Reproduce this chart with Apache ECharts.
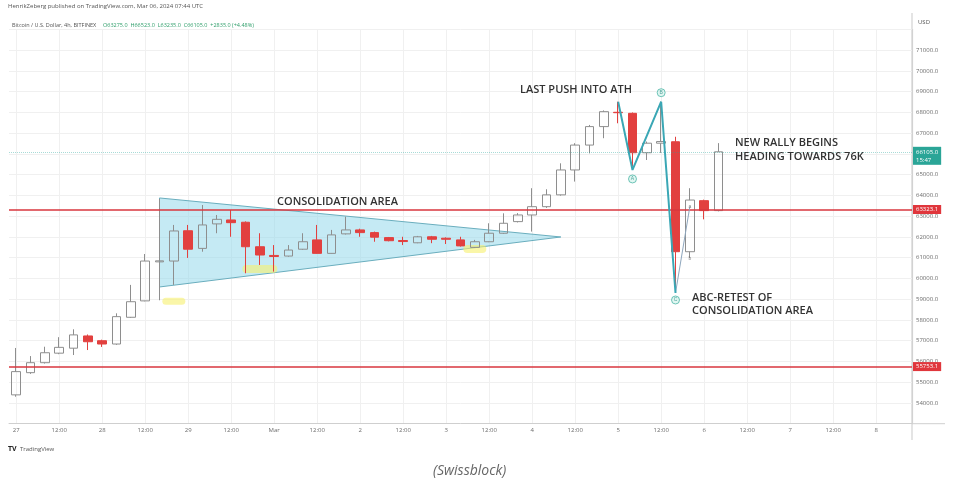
<!DOCTYPE html>
<html><head><meta charset="utf-8">
<script src="https://cdn.jsdelivr.net/npm/echarts@6/dist/echarts.min.js"></script>
<style>html,body{margin:0;padding:0;background:#fff;}#c{width:957px;height:489px;}</style>
</head><body><div id="c"></div>
<script>
// 4h slots, Feb 27 00:00 -> Mar 8 08:00 (UTC)
const categories = [
 '02-27 00','02-27 04','02-27 08','02-27 12','02-27 16','02-27 20',
 '02-28 00','02-28 04','02-28 08','02-28 12','02-28 16','02-28 20',
 '02-29 00','02-29 04','02-29 08','02-29 12','02-29 16','02-29 20',
 '03-01 00','03-01 04','03-01 08','03-01 12','03-01 16','03-01 20',
 '03-02 00','03-02 04','03-02 08','03-02 12','03-02 16','03-02 20',
 '03-03 00','03-03 04','03-03 08','03-03 12','03-03 16','03-03 20',
 '03-04 00','03-04 04','03-04 08','03-04 12','03-04 16','03-04 20',
 '03-05 00','03-05 04','03-05 08','03-05 12','03-05 16','03-05 20',
 '03-06 00','03-06 04','03-06 08','03-06 12','03-06 16','03-06 20',
 '03-07 00','03-07 04','03-07 08','03-07 12','03-07 16','03-07 20',
 '03-08 00','03-08 04','03-08 08'
];
const tickLabels = ['27','12:00','28','12:00','29','12:00','Mar','12:00','2','12:00','3','12:00','4','12:00','5','12:00','6','12:00','7','12:00','8'];
// [open, close, low, high]
const ohlc = [
 [54390,55510,54300,56650],[55460,55940,55400,56260],[55940,56420,55900,56710],[56400,56680,56350,57170],
 [56640,57280,56310,57550],[57230,56950,56550,57300],[57000,56840,56700,57050],[56840,58160,56800,58320],
 [58130,58880,58100,59690],[58920,60840,58900,61180],[60800,60850,58950,63830],[60840,62290,59690,62580],
 [62300,61410,60990,62580],[61450,62580,61290,63540],[62630,62850,62180,63060],[62820,62690,62010,63300],
 [62710,61530,60250,62750],[61530,61130,60650,62180],[61110,61060,60330,61610],[61080,61370,61050,61610],
 [61410,61770,61380,62180],[61860,61210,61200,62580],[61210,62100,61200,62340],[62150,62340,62120,62980],
 [62340,62210,62010,62400],[62210,61990,61770,62260],[61970,61820,61790,62000],[61830,61780,61610,62010],
 [61720,62010,61700,62050],[62010,61890,61700,62050],[61940,61890,61660,61980],[61860,61570,61540,62010],
 [61500,61770,61480,61860],[61770,62180,61750,62660],[62180,62660,62150,63140],[62740,63060,62700,63150],
 [63060,63460,62260,64350],[63460,64030,63400,64300],[64030,65230,63990,65550],[65230,66430,64670,66520],
 [66430,67320,66030,67400],[67320,68040,66760,68100],[68010,67990,67480,68520],[67960,66060,65400,68000],
 [66060,66520,65710,66600],[66520,66600,66050,68520],[66590,61290,59300,66830],[61290,63780,60990,64350],
 [63750,63270,62850,63800],[63270,66105,63235,66523]
];
const levels = [63323.1, 55753.1];
const lastPrice = 66105.0;
const countdown = '15:47';
const triangle = [[10,63880],[10,59590],[38,62000]];
const highlights = [[10.6,58900],[17.1,60460],[31.6,61420]];
const wave = [[42,68520],[43,65230],[45,68520],[46,59300]];
const waveLabels = [['A',43,65230],['B',45,68520],['C',46,59300]];
const subWave = [[46,59300],[47,63460]];
const subLabels = [['a',47,63460],['b',47,60980]];

const RED = '#e2403f';
const chart = echarts.init(document.getElementById('c'), null, {renderer:'canvas'});
const hlSize = [[23,7],[35,8],[23,8]];
const waveOff = {A:9, B:-9, C:7};
const annFont = {fontFamily:'Open Sans', fontSize:11, fontWeight:600, fill:'#333333'};

chart.setOption({
  animation:false,
  backgroundColor:'#ffffff',
  grid:{left:9, right:45, top:29.5, bottom:65.3, containLabel:false},
  xAxis:{
    type:'category', data:categories, boundaryGap:true,
    axisLine:{show:true, lineStyle:{color:'#cfcfcf', width:1}},
    axisTick:{show:false, alignWithLabel:true, interval:2},
    axisLabel:{interval:2, fontSize:6, color:'#6b6b6b', margin:4, fontFamily:'Open Sans',
      formatter:(v, i) => (i % 3 === 0 ? (tickLabels[i/3] || '') : '')},
    splitLine:{show:true, interval:2, alignWithLabel:true, lineStyle:{color:'#f0f0f0', width:1}}
  },
  yAxis:{
    type:'value', position:'right', min:53000, max:72000, interval:1000, scale:true,
    axisLine:{show:true, lineStyle:{color:'#d2d2d2', width:1.2}},
    axisTick:{show:false},
    axisLabel:{fontSize:6, color:'#6b6b6b', margin:4, fontFamily:'Open Sans', showMinLabel:false, showMaxLabel:false,
      formatter:v => v.toFixed(1)},
    splitLine:{show:true, lineStyle:{color:'#f0f0f0', width:1}}
  },
  series:[
    {
      type:'custom', z:1, silent:true, data:[[0,60000]], clip:false,
      renderItem:(params, api) => ({
        type:'polygon', shape:{points: triangle.map(p => api.coord(p))},
        style:{fill:'rgba(140,214,234,0.5)', stroke:'#6aaebe', lineWidth:1}
      })
    },
    {
      type:'custom', z:2, silent:true, data:highlights,
      renderItem:(params, api) => {
        const c = api.coord([api.value(0), api.value(1)]);
        const s = hlSize[params.dataIndex];
        return {type:'rect', shape:{x:c[0]-s[0]/2, y:c[1]-s[1]/2, width:s[0], height:s[1], r:s[1]/2},
          style:{fill:'rgba(246,240,110,0.6)'}};
      }
    },
    {
      type:'candlestick', z:3, data:ohlc, barWidth:9, clip:false,
      itemStyle:{color:'rgba(255,255,255,0)', color0:RED, borderColor:'#8e8e8e', borderColor0:RED, borderWidth:1},
      markLine:{
        silent:true, symbol:'none', animation:false, precision:1,
        data:[
          {yAxis:levels[0], lineStyle:{color:'#d9363e', width:1.6, type:'solid'},
            label:{show:true, position:'end', distance:1, formatter:levels[0].toFixed(1), fontSize:6, color:'#fff',
              backgroundColor:'#e0363c', padding:[2,3,1,3], fontFamily:'Open Sans'}},
          {yAxis:levels[1], lineStyle:{color:'#d9363e', width:1.6, type:'solid'},
            label:{show:true, position:'end', distance:1, formatter:levels[1].toFixed(1), fontSize:6, color:'#fff',
              backgroundColor:'#e0363c', padding:[2,3,1,3], fontFamily:'Open Sans'}},
          {yAxis:lastPrice, lineStyle:{color:'rgba(38,166,154,0.4)', width:1, type:'dotted'},
            label:{show:true, position:'end', distance:1, formatter:lastPrice.toFixed(1)+'\n'+countdown, fontSize:6, lineHeight:8,
              color:'#ffffff', backgroundColor:'#2aa597', padding:[1,3,1,3], offset:[0,4], fontFamily:'Open Sans'}}
        ]
      }
    },
    {
      type:'line', z:5, data:subWave, symbol:'none', silent:true,
      lineStyle:{color:'#8ea6bd', width:1}
    },
    {
      type:'line', z:6, data:wave, symbol:'none', silent:true,
      lineStyle:{color:'#3aa7b5', width:2}
    },
    {
      type:'scatter', z:7, silent:true,
      data: waveLabels.map(w => ({name:w[0], value:[w[1], w[2]], symbolOffset:[0, waveOff[w[0]]]})),
      symbol:'circle', symbolSize:8,
      itemStyle:{color:'rgba(215,244,238,0.95)', borderColor:'#4fb6a8', borderWidth:1},
      label:{show:true, position:'inside', formatter:'{b}', fontSize:5, color:'#2a8f86'}
    },
    {
      type:'scatter', z:7, silent:true,
      data: subLabels.map(w => ({name:w[0], value:[w[1], w[2]]})),
      symbolSize:1, itemStyle:{color:'rgba(0,0,0,0)'},
      label:{show:true, position:'inside', formatter:'{b}', fontSize:5, color:'#666'}
    }
  ],
  graphic:[
    {type:'text', z:100, left:8, top:3, style:{text:'HenrikZeberg published on TradingView.com, Mar 06, 2024 07:44 UTC', fontSize:6, fill:'#555', fontFamily:'Open Sans'}},
    {type:'text', z:100, left:12, top:19, style:{text:'{g|Bitcoin / U.S. Dollar, 4h, BITFINEX}  {v|O63275.0  H66523.0  L63235.0  C66105.0  +2835.0 (+4.48%)}',
      rich:{g:{fontSize:5.5, fill:'#555', fontFamily:'Open Sans'}, v:{fontSize:5.5, fill:'#2e9e6a', fontFamily:'Open Sans'}}}},
    {type:'text', z:100, left:918, top:19, style:{text:'USD', fontSize:6, fill:'#555', fontFamily:'Open Sans'}},
    {type:'line', shape:{x1:912, y1:13, x2:912, y2:440}, style:{stroke:'#d2d2d2', lineWidth:1.2}, z:-1},
    {type:'line', shape:{x1:912, y1:423.7, x2:945, y2:423.7}, style:{stroke:'#cfcfcf', lineWidth:1}},
    {type:'text', z:100, left:277, top:196, style:Object.assign({text:'CONSOLIDATION AREA'}, annFont)},
    {type:'text', z:100, left:520, top:84, style:Object.assign({text:'LAST PUSH INTO ATH'}, annFont)},
    {type:'text', z:100, left:735, top:136, style:Object.assign({text:'NEW RALLY BEGINS\nHEADING TOWARDS 76K', lineHeight:14}, annFont)},
    {type:'text', z:100, left:692, top:291, style:Object.assign({text:'ABC-RETEST OF\nCONSOLIDATION AREA', lineHeight:13}, annFont)},
    {type:'text', z:100, left:8, top:443, style:{text:'{b|TV} {t|TradingView}', rich:{b:{fontSize:7, fontWeight:'bold', fill:'#222', fontFamily:'Open Sans'}, t:{fontSize:6, fill:'#555', fontFamily:'Open Sans'}}}},
    {type:'text', z:100, left:433, top:464, style:{text:'(Swissblock)', fontSize:14, fontStyle:'italic', fill:'#666', fontFamily:'Open Sans'}}
  ]
});
</script></body></html>
